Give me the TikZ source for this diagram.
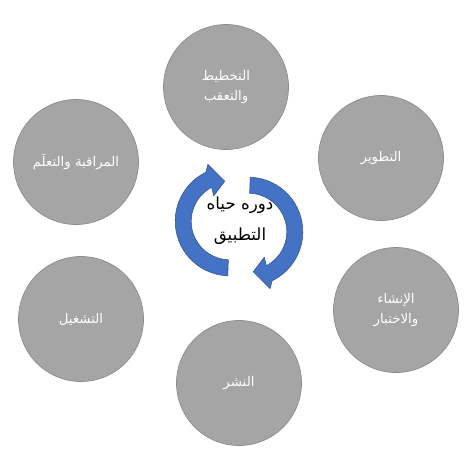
\documentclass[tikz,border=0pt]{standalone}
\usepackage{fontspec}
\usepackage{xcolor}
\newfontfamily\arabicfont[Script=Arabic]{DejaVu Sans}
\TeXXeTstate=1
\definecolor{phasegray}{HTML}{A5A5A5}
\definecolor{phaseline}{HTML}{8C8C8C}
\definecolor{cycleblue}{HTML}{4472C4}
\definecolor{cycleline}{HTML}{2F528F}
\tikzset{
  phase/.style={circle, fill=phasegray, draw=phaseline, line width=0.5pt,
    minimum size=93.75pt, inner sep=0pt, align=center, text=white,
    font=\arabicfont\fontsize{10}{15}\selectfont},
  cyclearrow/.style={fill=cycleblue, draw=cycleline, line width=0.4pt, line join=miter},
}
% one curved arrow, drawn round its own arc centre
\newcommand{\lifecyclearrow}{%
  \draw[cyclearrow] (92:54.5) arc[start angle=92, end angle=244, radius=54.5]
    -- (-21.8,-57) -- (-5,-40) -- (-16,-25.5) -- (242:38.5)
    arc[start angle=242, end angle=92, radius=38.5] -- cycle;}
\begin{document}
\begin{tikzpicture}[x=0.75pt,y=0.75pt,yscale=-1,xscale=1]
\useasboundingbox (0,0) rectangle (474,468);

% Phases
\node[phase] (plan) at (226,87) {\beginR التخطيط\endR\\\beginR والتعقب\endR};
\node[phase] (develop) at (381,158) {\beginR التطوير\endR};
\node[phase] (build) at (396,310) {\beginR الإنشاء\endR\\\beginR والاختبار\endR};
\node[phase] (deploy) at (239,383) {\beginR النشر\endR};
\node[phase] (operate) at (81,319) {\beginR التشغيل\endR};
\node[phase] (monitor) at (76,162) {\beginR المراقبة والتعلَم\endR};

% Cycle arrows
\begin{scope}[shift={(239,226.5)}]
  \begin{scope}[shift={(-9.3,-5.2)}]
    \lifecyclearrow
  \end{scope}
  \begin{scope}[rotate=180, shift={(-9.3,-5.2)}]
    \lifecyclearrow
  \end{scope}
\end{scope}

% Title
\node[align=center, font=\arabicfont\fontsize{12.5}{23}\selectfont] (title) at (240,221)
  {\beginR دوره حياه\endR\\\beginR التطبيق\endR};
\end{tikzpicture}
\end{document}
